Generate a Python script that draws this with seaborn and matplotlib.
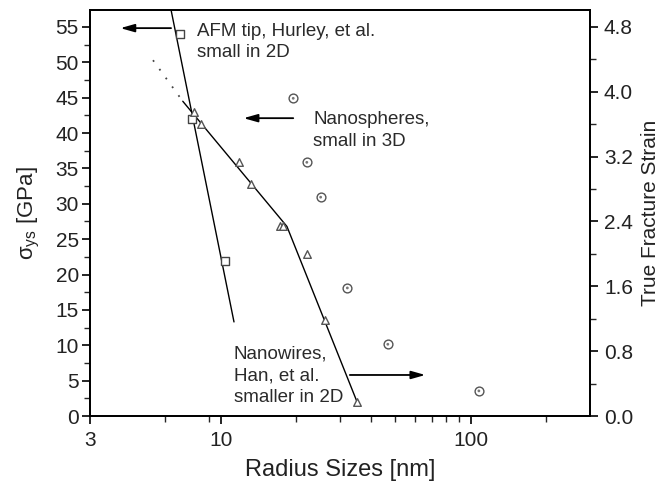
import numpy as np
import pandas as pd
import matplotlib
matplotlib.use("Agg")
import matplotlib.pyplot as plt
import seaborn as sns
from matplotlib.ticker import FixedLocator, NullFormatter, MultipleLocator

# --- data ---
afm_r = [6.87, 7.65, 10.37]
afm_s = [54.0, 42.0, 21.9]
afm_line_r = [6.33, 11.3]
afm_line_s = [57.4, 13.3]

wire_r = [7.8, 8.33, 11.8, 13.2, 17.3, 17.8, 22.1, 26.1, 35.1]
wire_s = [43.0, 41.3, 35.9, 32.8, 26.9, 26.9, 22.9, 13.6, 2.0]
wire_line_r = [7.05, 18.4, 35.1]
wire_line_s = [44.5, 26.8, 2.0]
dot_line_r = [5.36, 7.05]
dot_line_s = [50.3, 44.5]

sphere_r = [19.5, 22.1, 25.1, 32.1, 46.6, 107.8]
sphere_strain = [3.92, 3.13, 2.70, 1.58, 0.885, 0.31]

x_major = [3, 10, 100]
x_minor = [6, 9, 20, 30, 40, 50, 60, 70, 80, 90, 200]
y_left_ticks = [0, 5, 10, 15, 20, 25, 30, 35, 40, 45, 50, 55]
y_right_ticks = [0.0, 0.8, 1.6, 2.4, 3.2, 4.0, 4.8]

afm_text = ['AFM tip, Hurley, et al.', 'small in 2D']
sphere_text = ['Nanospheres,', 'small in 3D']
wire_text = ['Nanowires,', 'Han, et al.', 'smaller in 2D']

sns.set_style("ticks")
plt.rcParams['font.family'] = ['Liberation Sans', 'DejaVu Sans']
plt.rcParams['mathtext.fontset'] = 'custom'
plt.rcParams['mathtext.rm'] = 'Liberation Sans'
plt.rcParams['mathtext.it'] = 'Liberation Sans'
plt.rcParams['mathtext.sf'] = 'Liberation Sans'

fig = plt.figure(figsize=(6.68, 4.86), dpi=100)
ax = fig.add_axes([90/668, 70/486, 500/668, 406/486])

ymax = 57.4
ratio = 4.8 / 55.0

line_kw = dict(color='black', linewidth=1.0)
sns.lineplot(x=afm_line_r, y=afm_line_s, ax=ax, sort=False, estimator=None, **line_kw)
sns.lineplot(x=wire_line_r, y=wire_line_s, ax=ax, sort=False, estimator=None, **line_kw)
ax.plot(dot_line_r, dot_line_s, color='#444444', linewidth=1.3, linestyle=(0, (1, 5)))

sns.scatterplot(x=afm_r, y=afm_s, ax=ax, marker='s', s=30, facecolor='white',
                edgecolor='#444444', linewidth=1.0, zorder=3)
sns.scatterplot(x=wire_r, y=wire_s, ax=ax, marker='^', s=30, facecolor='white',
                edgecolor='#555555', linewidth=1.0, zorder=3)

ax2 = ax.twinx()
sns.scatterplot(x=sphere_r, y=sphere_strain, ax=ax2, marker='o', s=40, facecolor='white',
                edgecolor='#555555', linewidth=1.0, zorder=3)
sns.scatterplot(x=sphere_r, y=sphere_strain, ax=ax2, marker='o', s=4, facecolor='#777777',
                edgecolor='none', zorder=4)

ax.set_xscale('log')
ax.set_xlim(3, 300)
ax.set_ylim(0, ymax)
ax2.set_ylim(0, ymax * ratio)
ax2.set_xscale('log')
ax2.set_xlim(3, 300)

ax.xaxis.set_major_locator(FixedLocator(x_major))
ax.set_xticklabels([str(v) for v in x_major])
ax.xaxis.set_minor_locator(FixedLocator(x_minor))
ax.xaxis.set_minor_formatter(NullFormatter())

ax.set_yticks(y_left_ticks)
ax.set_yticklabels([str(v) for v in y_left_ticks])
ax.yaxis.set_minor_locator(MultipleLocator(2.5))
ax2.set_yticks(y_right_ticks)
ax2.set_yticklabels([f"{v:.1f}" for v in y_right_ticks])
ax2.yaxis.set_minor_locator(MultipleLocator(0.4))

tfs = 15
for a in (ax, ax2):
    for sp in a.spines.values():
        sp.set_linewidth(1.3)
        sp.set_color('black')
    a.tick_params(which='major', length=6, width=1.2, labelsize=tfs, direction='out',
                  colors='black', labelcolor='#222222')
    a.tick_params(which='minor', length=4, width=1.0, direction='out')
    a.set_ylabel('')
ax.tick_params(axis='x', which='both', top=False)
ax.tick_params(axis='x', which='major', pad=5)
ax.tick_params(axis='y', which='both', right=False)
ax.tick_params(axis='y', which='major', pad=2)
ax2.tick_params(axis='y', which='both', left=False, right=True)
ax2.tick_params(axis='y', which='major', pad=4)

ax.set_xlabel('Radius Sizes [nm]', fontsize=17, color='#222222', labelpad=6)
ax.set_ylabel(r'$\mathregular{\sigma_{ys}}$ [GPa]', fontsize=16, color='#222222', labelpad=10)
ax2.set_ylabel('True Fracture Strain', fontsize=15, color='#222222', labelpad=6)

def arrow(x0, x1, y):
    ax.annotate('', xy=(x1, y), xytext=(x0, y),
                arrowprops=dict(arrowstyle='-|>,head_length=0.6,head_width=0.17',
                                color='black', lw=1.3,
                                mutation_scale=14, shrinkA=0, shrinkB=0))

def px2x(px):
    return 10 * 10 ** ((px - 220) / 251.7)

def py2y(py):
    return (416 - py) / 7.07

arrow(px2x(170), px2x(119), py2y(28.3))
arrow(px2x(293), px2x(243), py2y(118.3))
arrow(px2x(350), px2x(426), py2y(375))

afs = 13.5
tkw = dict(fontsize=afs, color='#2a2a2a', va='baseline', ha='left')

def block(lines, px, base_py, step=21.5):
    for i, t in enumerate(lines):
        ax.text(px2x(px), py2y(base_py + i * step), t, **tkw)

block(afm_text, 196, 35.7)
block(sphere_text, 313, 124.5, 22)
block(wire_text, 233, 358.3, 22)

fig.savefig('out.png', dpi=100)
